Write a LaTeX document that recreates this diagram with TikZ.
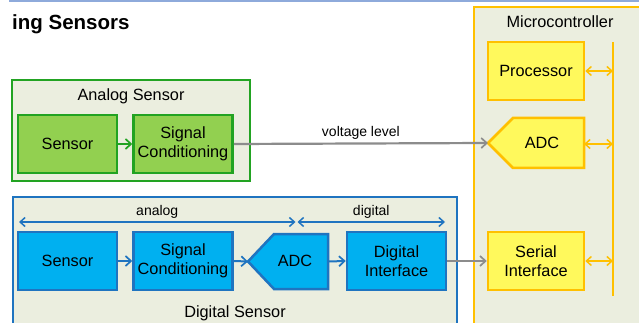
\documentclass[tikz,border=0pt]{standalone}
\usepackage{fontspec}
\setmainfont{Liberation Sans}
\usetikzlibrary{arrows.meta}
\definecolor{bgfill}{HTML}{EBEEDF}
\definecolor{gborder}{HTML}{22A322}
\definecolor{gfill}{HTML}{92D050}
\definecolor{bfill}{HTML}{00B0F0}
\definecolor{bborder}{HTML}{1F74C0}
\definecolor{yfill}{HTML}{FFF95C}
\definecolor{oborder}{HTML}{FFC000}
\definecolor{conn}{HTML}{8C8C8C}
\definecolor{topbar}{HTML}{8EAADB}
\tikzset{
  txt/.style={font=\fontsize{16.3}{19.5}\selectfont, align=center, inner sep=0pt},
  lbl/.style={font=\fontsize{14}{16}\selectfont, inner sep=0pt},
  greenbox/.style={draw=gborder, fill=gfill, line width=2.5pt, minimum width=99pt, minimum height=58pt, txt},
  bluebox/.style={draw=bborder, fill=bfill, line width=2.5pt, minimum width=99pt, minimum height=58pt, txt},
  yellowbox/.style={draw=oborder, fill=yfill, line width=2.5pt, minimum width=96pt, minimum height=58pt, txt},
  tip/.style={-{Straight Barb[length=5.5pt,width=10pt,line width=1.7pt]}},
  dtip/.style={{Straight Barb[length=5pt,width=9pt,line width=1.5pt]}-{Straight Barb[length=5pt,width=9pt,line width=1.5pt]}},
  garrow/.style={draw=gborder, line width=2pt, tip},
  barrow/.style={draw=bborder, line width=2pt, tip},
  grayarrow/.style={draw=conn, line width=2.2pt, tip},
  spanarrow/.style={draw=bborder, line width=1.4pt, dtip},
  busarrow/.style={draw=oborder, line width=1.4pt, dtip},
}
\begin{document}
\begin{tikzpicture}[x=1pt,y=-1pt]
\useasboundingbox (0,0) rectangle (639,323);
\clip (0,0) rectangle (639,323);
\fill[white] (0,0) rectangle (639,323);
% top bar
\fill[topbar] (9,-1) rectangle (641,2.5);
% title
\node[anchor=base west, inner sep=0pt, font=\fontsize{20.5}{22}\selectfont\bfseries] (title) at (12,29.5) {ing Sensors};

% Microcontroller
\draw[draw=oborder, fill=bgfill, line width=2.5pt] (474,7) rectangle (660,340);
\node[txt] (mclbl) at (560,22) {Microcontroller};
\node[yellowbox] (proc) at (536,71) {Processor};
\draw[draw=oborder, fill=yfill, line width=2.5pt] (488,143) -- (513,118) -- (584,118) -- (584,168) -- (513,168) -- cycle;
\coordinate (mcadctip) at (488,143);
\coordinate (mcadcr) at (584,144);
\node[txt] (mcadc) at (542,143) {ADC};
\node[yellowbox] (serial) at (536,261) {Serial\\Interface};
\draw[draw=oborder, line width=2.5pt] (613,42) coordinate (bustop) -- (613,296) coordinate (busbot);
\coordinate (bus1) at (613,71);
\coordinate (bus2) at (613,144);
\coordinate (bus3) at (613,261);
\draw[busarrow] (proc.east) -- (bus1);
\draw[busarrow] (mcadcr) -- (bus2);
\draw[busarrow] (serial.east) -- (bus3);

% Analog sensor
\draw[draw=gborder, fill=bgfill, line width=2pt] (12,80) rectangle (250,181);
\node[txt] (aslbl) at (131,96) {Analog Sensor};
\node[greenbox] (asens) at (67.5,144) {Sensor};
\node[greenbox] (asc) at (183,144) {Signal\\Conditioning};
\draw[garrow] (asens.east) -- (asc.west);

% voltage level
\draw[grayarrow] (asc.east) -- node[lbl, above=3pt] (vl) {voltage level} (mcadctip);

% Digital sensor
\draw[draw=bborder, fill=bgfill, line width=2pt] (13,197) rectangle (457,340);
\node[txt] (dslbl) at (235,313) {Digital Sensor};
\coordinate (anL) at (19,222);
\coordinate (anR) at (295.5,222);
\coordinate (diL) at (297.5,222);
\coordinate (diR) at (445,222);
\draw[spanarrow] (anL) -- node[lbl, above=3pt] (analbl) {analog} (anR);
\draw[spanarrow] (diL) -- node[lbl, above=3pt] (diglbl) {digital} (diR);
\node[bluebox] (dsens) at (67.5,261) {Sensor};
\node[bluebox] (dsc) at (183,261) {Signal\\Conditioning};
\draw[draw=bborder, fill=bfill, line width=2.5pt] (248,261.5) -- (274,234) -- (328,234) -- (328,289) -- (274,289) -- cycle;
\coordinate (dadctip) at (248,261.5);
\coordinate (dadcr) at (328,261.5);
\node[txt] (dadc) at (295,261) {ADC};
\node[bluebox] (dif) at (396.5,261) {Digital\\Interface};
\draw[barrow] (dsens.east) -- (dsc.west);
\draw[barrow] (dsc.east) -- (dadctip);
\draw[barrow] (dadcr) -- (dif.west);
\draw[grayarrow] (dif.east) -- (serial.west);
\end{tikzpicture}
\end{document}
